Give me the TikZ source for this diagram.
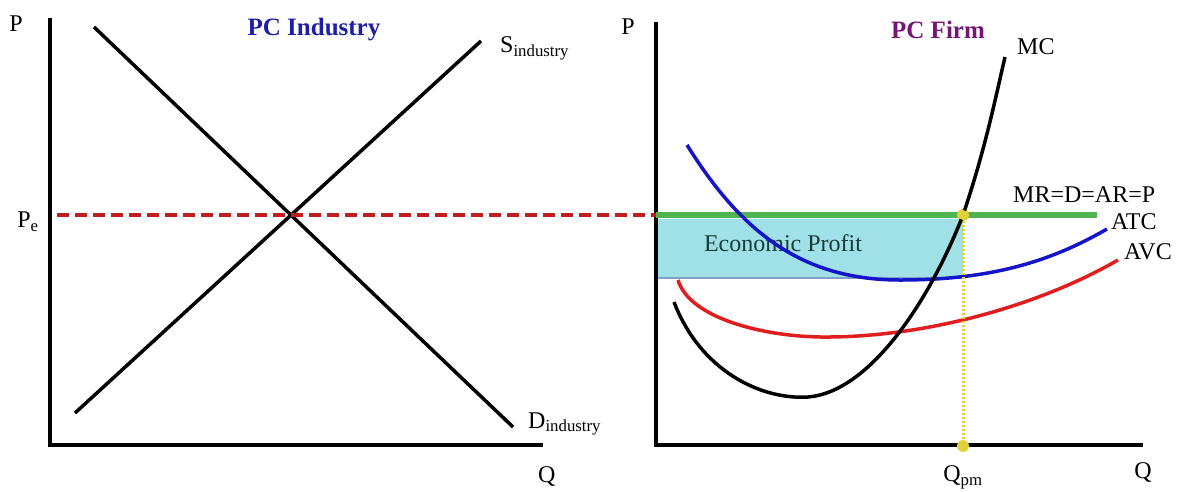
\documentclass[tikz,border=0pt]{standalone}
\usepackage{fontspec}
\setmainfont{Liberation Serif}
\usepackage{xcolor}
\usetikzlibrary{positioning}

\definecolor{indblue}{RGB}{30,30,170}
\definecolor{firmpurple}{RGB}{120,20,120}
\definecolor{pered}{RGB}{190,30,30}
\definecolor{mrgreen}{RGB}{80,180,80}
\definecolor{profitfill}{RGB}{160,225,232}
\definecolor{profitedge}{RGB}{130,160,200}
\definecolor{profittext}{RGB}{20,60,60}
\definecolor{qyellow}{RGB}{225,210,60}
\definecolor{atcblue}{RGB}{20,20,200}
\definecolor{avcred}{RGB}{225,30,30}

\begin{document}
\begin{tikzpicture}[x=1pt, y=-1pt,
  lbl/.style={font=\fontsize{24}{28}\selectfont, inner sep=1pt},
  ttl/.style={font=\fontsize{25}{30}\selectfont\bfseries, inner sep=1pt},
  axisln/.style={line width=4pt},
  crv/.style={line width=3.5pt},
  dashln/.style={line width=4pt, pered, dash pattern=on 12pt off 6pt},
  dotln/.style={line width=3pt, qyellow, dash pattern=on 2pt off 2pt},
  ydot/.style={circle, fill=qyellow, inner sep=0pt, minimum size=12pt},
]
  \useasboundingbox (0,0) rectangle (1180,491);

  % industry panel
  \coordinate (ltop) at (50,18);
  \coordinate (lorg) at (50,445);
  \coordinate (lend) at (543,445);
  \coordinate (dtop) at (94,27);
  \coordinate (dbot) at (513,427);
  \coordinate (sbot) at (75,413);
  \coordinate (stop) at (481,41);
  \coordinate (pestart) at (57,215);

  % firm panel
  \coordinate (rtop) at (656,22);
  \coordinate (rorg) at (656,445);
  \coordinate (rend) at (1143,445);
  \coordinate (pefirm) at (656,215);
  \coordinate (mrend) at (1097,215);

  \fill[profitfill] (656,219) rectangle (963,278);
  \draw[line width=2pt, profitedge] (656,278) -- (963,278);
  \node[lbl, profittext] (profit) at (783,243) {Economic Profit};

  \draw[axisln] (ltop) -- (lorg) -- (lend);
  \draw[axisln] (rtop) -- (rorg) -- (rend);

  \draw[crv] (dtop) -- (dbot);
  \draw[crv] (sbot) -- (stop);

  \draw[line width=6pt, mrgreen] (pefirm) -- (mrend);
  \draw[dashln] (pestart) -- (pefirm);

  % cost curves
  \draw[crv, atcblue] (687,145) .. controls (740,230) and (800,280) .. (900,280)
    .. controls (990,280) and (1050,262) .. (1107,229);
  \draw[crv, avcred] (678,280) .. controls (690,320) and (770,338) .. (830,337)
    .. controls (930,336) and (1040,305) .. (1118,260);

  \node[ydot] (eqdot) at (963,215) {};
  \node[ydot] (qpmdot) at (963,446) {};
  \draw[dotln] (eqdot) -- (qpmdot);

  \draw[crv] (674,302) .. controls (700,370) and (760,400) .. (808,397)
    .. controls (870,392) and (930,300) .. (eqdot.center)
    .. controls (985,150) and (995,100) .. (1005,57);
  \node[ydot, minimum size=10pt] at (eqdot) {};

  % labels
  \node[lbl] (pl) at (16,24) {P};
  \node[lbl] (pel) at (28,222) {P\textsubscript{e}};
  \node[ttl, indblue] (indttl) at (314,30) {PC Industry};
  \node[lbl, anchor=west] (slbl) at (499,48) {S\textsubscript{industry}};
  \node[lbl, anchor=west] (dlbl) at (527,424) {D\textsubscript{industry}};
  \node[lbl, below right=20pt and -6pt of lend] (lq) {Q};

  \node[lbl] (pr) at (628,27) {P};
  \node[ttl, firmpurple] (firmttl) at (938,30) {PC Firm};
  \node[lbl, anchor=west] (mclbl) at (1016,47) {MC};
  \node[lbl, anchor=west] (mrlbl) at (1012,195) {MR=D=AR=P};
  \node[lbl, anchor=west] (atclbl) at (1110,222) {ATC};
  \node[lbl, anchor=west] (avclbl) at (1123,252) {AVC};
  \node[lbl, below=12pt of qpmdot] (qpml) {Q\textsubscript{pm}};
  \node[lbl, below=16pt of rend] (rq) {Q};
\end{tikzpicture}
\end{document}
